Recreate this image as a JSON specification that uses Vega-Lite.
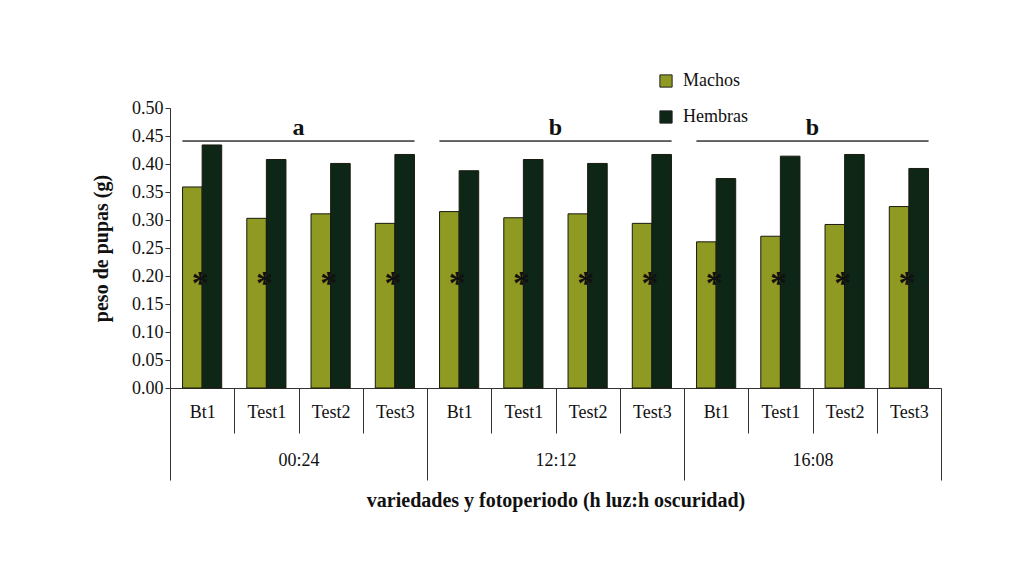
{
  "$schema": "https://vega.github.io/schema/vega-lite/v6.json",
  "width": 771,
  "height": 280,
  "padding": {"left": 91, "top": 72, "right": 5, "bottom": 5},
  "background": "white",
  "config": {
    "font": "Liberation Serif",
    "text": {"font": "Liberation Serif"},
    "view": {"stroke": null},
    "axis": {"grid": false, "domainColor": "#333", "tickColor": "#333", "labelColor": "#111", "titleColor": "#111", "labelFont": "Liberation Serif", "titleFont": "Liberation Serif"},
    "axisY": {
      "title": "peso de pupas (g)", "titleFontSize": 20, "titleFontWeight": "bold",
      "titlePadding": 20, "labelOverlap": false, "tickCount": 10,
      "format": ".2f", "labelFontSize": 18, "tickSize": 5, "labelPadding": 2
    },
    "legend": {"labelFont": "Liberation Serif", "titleFont": "Liberation Serif", "labelColor": "#111"}
  },
  "datasets": {
    "pesos": [
      {"grupo": "00:24", "variedad": "Bt1", "clave": "00:24|Bt1", "sexo": "Machos", "peso": 0.359},
      {"grupo": "00:24", "variedad": "Bt1", "clave": "00:24|Bt1", "sexo": "Hembras", "peso": 0.434},
      {"grupo": "00:24", "variedad": "Test1", "clave": "00:24|Test1", "sexo": "Machos", "peso": 0.303},
      {"grupo": "00:24", "variedad": "Test1", "clave": "00:24|Test1", "sexo": "Hembras", "peso": 0.408},
      {"grupo": "00:24", "variedad": "Test2", "clave": "00:24|Test2", "sexo": "Machos", "peso": 0.311},
      {"grupo": "00:24", "variedad": "Test2", "clave": "00:24|Test2", "sexo": "Hembras", "peso": 0.401},
      {"grupo": "00:24", "variedad": "Test3", "clave": "00:24|Test3", "sexo": "Machos", "peso": 0.294},
      {"grupo": "00:24", "variedad": "Test3", "clave": "00:24|Test3", "sexo": "Hembras", "peso": 0.417},
      {"grupo": "12:12", "variedad": "Bt1", "clave": "12:12|Bt1", "sexo": "Machos", "peso": 0.315},
      {"grupo": "12:12", "variedad": "Bt1", "clave": "12:12|Bt1", "sexo": "Hembras", "peso": 0.388},
      {"grupo": "12:12", "variedad": "Test1", "clave": "12:12|Test1", "sexo": "Machos", "peso": 0.304},
      {"grupo": "12:12", "variedad": "Test1", "clave": "12:12|Test1", "sexo": "Hembras", "peso": 0.408},
      {"grupo": "12:12", "variedad": "Test2", "clave": "12:12|Test2", "sexo": "Machos", "peso": 0.311},
      {"grupo": "12:12", "variedad": "Test2", "clave": "12:12|Test2", "sexo": "Hembras", "peso": 0.401},
      {"grupo": "12:12", "variedad": "Test3", "clave": "12:12|Test3", "sexo": "Machos", "peso": 0.294},
      {"grupo": "12:12", "variedad": "Test3", "clave": "12:12|Test3", "sexo": "Hembras", "peso": 0.417},
      {"grupo": "16:08", "variedad": "Bt1", "clave": "16:08|Bt1", "sexo": "Machos", "peso": 0.261},
      {"grupo": "16:08", "variedad": "Bt1", "clave": "16:08|Bt1", "sexo": "Hembras", "peso": 0.374},
      {"grupo": "16:08", "variedad": "Test1", "clave": "16:08|Test1", "sexo": "Machos", "peso": 0.271},
      {"grupo": "16:08", "variedad": "Test1", "clave": "16:08|Test1", "sexo": "Hembras", "peso": 0.414},
      {"grupo": "16:08", "variedad": "Test2", "clave": "16:08|Test2", "sexo": "Machos", "peso": 0.292},
      {"grupo": "16:08", "variedad": "Test2", "clave": "16:08|Test2", "sexo": "Hembras", "peso": 0.417},
      {"grupo": "16:08", "variedad": "Test3", "clave": "16:08|Test3", "sexo": "Machos", "peso": 0.324},
      {"grupo": "16:08", "variedad": "Test3", "clave": "16:08|Test3", "sexo": "Hembras", "peso": 0.392}
    ],
    "asteriscos": [
      {"clave": "00:24|Bt1", "marca": "*", "y": 0.185},
      {"clave": "00:24|Test1", "marca": "*", "y": 0.185},
      {"clave": "00:24|Test2", "marca": "*", "y": 0.185},
      {"clave": "00:24|Test3", "marca": "*", "y": 0.185},
      {"clave": "12:12|Bt1", "marca": "*", "y": 0.185},
      {"clave": "12:12|Test1", "marca": "*", "y": 0.185},
      {"clave": "12:12|Test2", "marca": "*", "y": 0.185},
      {"clave": "12:12|Test3", "marca": "*", "y": 0.185},
      {"clave": "16:08|Bt1", "marca": "*", "y": 0.185},
      {"clave": "16:08|Test1", "marca": "*", "y": 0.185},
      {"clave": "16:08|Test2", "marca": "*", "y": 0.185},
      {"clave": "16:08|Test3", "marca": "*", "y": 0.185}
    ],
    "letras": [
      {"grupo": "00:24", "letra": "a", "linea": 0.441, "ypos": 0.464},
      {"grupo": "12:12", "letra": "b", "linea": 0.441, "ypos": 0.464},
      {"grupo": "16:08", "letra": "b", "linea": 0.441, "ypos": 0.464}
    ]
  },
  "layer": [
    {
      "layer": [
        {
          "data": {"name": "pesos"},
          "mark": {"type": "bar", "stroke": "#1a1a10", "strokeWidth": 1},
          "encoding": {
            "x": {
              "field": "clave", "type": "nominal", "sort": null,
              "scale": {"paddingInner": 0, "paddingOuter": 0},
              "axis": {
                "title": null, "orient": "bottom",
                "labelExpr": "split(datum.label, '|')[1]",
                "labelFontSize": 18, "labelAngle": 0, "labelFont": "Liberation Serif",
                "tickBand": "extent", "tickSize": 45, "labelPadding": -30,
                "domainColor": "#333"
              }
            },
            "xOffset": {
              "field": "sexo", "type": "nominal", "sort": ["Machos", "Hembras"],
              "scale": {"paddingInner": 0, "paddingOuter": 0.64}
            },
            "y": {
              "field": "peso", "type": "quantitative",
              "scale": {"domain": [0, 0.5], "nice": false},
              "title": "peso de pupas (g)"
            },
            "color": {
              "field": "sexo", "type": "nominal", "sort": ["Machos", "Hembras"],
              "scale": {"domain": ["Machos", "Hembras"], "range": ["#8f9a22", "#0e2616"]},
              "legend": {
                "title": null, "orient": "none", "legendX": 487, "legendY": -36,
                "symbolType": "square", "symbolSize": 150, "symbolStrokeColor": "#222", "symbolStrokeWidth": 1,
                "labelFontSize": 18, "rowPadding": 18, "labelOffset": 8, "labelFont": "Liberation Serif"
              }
            }
          }
        },
        {
          "data": {"name": "asteriscos"},
          "mark": {"type": "text", "fontSize": 34, "fontWeight": "bold", "color": "#111", "baseline": "middle", "align": "center", "font": "Liberation Serif", "dx": -2},
          "encoding": {
            "x": {"field": "clave", "type": "nominal", "sort": null},
            "y": {"field": "y", "type": "quantitative", "title": "peso de pupas (g)"},
            "text": {"field": "marca"}
          }
        }
      ]
    },
    {
      "data": {"name": "letras"},
      "mark": {"type": "bar", "opacity": 0},
      "encoding": {
        "x": {
          "field": "grupo", "type": "nominal", "sort": null,
          "scale": {"paddingInner": 0, "paddingOuter": 0},
          "axis": {
            "orient": "bottom", "title": "variedades y fotoperiodo (h luz:h oscuridad)",
            "titleFontSize": 20, "titleFontWeight": "bold", "titlePadding": 10,
            "labelFontSize": 18, "labelAngle": 0, "tickBand": "extent", "labelFont": "Liberation Serif",
            "tickSize": 92, "labelPadding": -29, "domain": false
          }
        },
        "y": {"field": "linea", "type": "quantitative", "title": "peso de pupas (g)"}
      }
    },
    {
      "data": {"name": "letras"},
      "layer": [
        {
          "mark": {"type": "bar", "fill": null, "stroke": "#333", "strokeWidth": 1},
          "encoding": {
            "x": {"field": "grupo", "type": "nominal", "sort": null,
              "scale": {"paddingInner": 0.0973, "paddingOuter": 0.0486}, "axis": null},
            "y": {"field": "linea", "type": "quantitative", "title": "peso de pupas (g)"},
            "y2": {"field": "linea"}
          }
        },
        {
          "mark": {"type": "text", "fontSize": 24, "fontWeight": "bold", "baseline": "middle", "color": "#111", "font": "Liberation Serif"},
          "encoding": {
            "x": {"field": "grupo", "type": "nominal", "sort": null, "axis": null},
            "y": {"field": "ypos", "type": "quantitative", "title": "peso de pupas (g)"},
            "text": {"field": "letra"}
          }
        }
      ]
    }
  ],
  "resolve": {"scale": {"x": "independent", "xOffset": "independent"}, "axis": {"x": "independent"}}
}
